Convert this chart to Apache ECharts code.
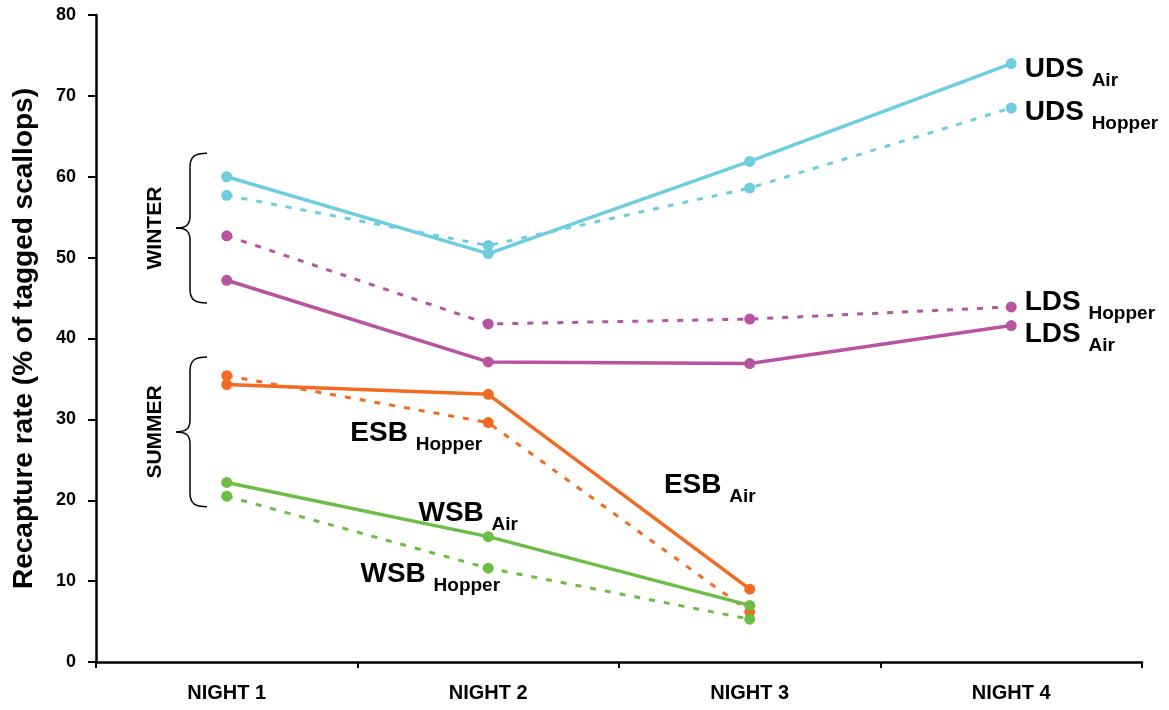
<!DOCTYPE html>
<html>
<head>
<meta charset="utf-8">
<script src="https://cdn.jsdelivr.net/npm/echarts@6/dist/echarts.min.js"></script>
<style>
html,body{margin:0;padding:0;background:#fff;}
#chart{width:1169px;height:710px;}
</style>
</head>
<body>
<div id="chart"></div>
<script>
// ---- data ----
var nights = ['NIGHT 1', 'NIGHT 2', 'NIGHT 3', 'NIGHT 4'];
var yTicks = [0, 10, 20, 30, 40, 50, 60, 70, 80];
var udsAir    = [60.0, 50.5, 61.9, 74.0];
var udsHopper = [57.7, 51.5, 58.6, 68.5];
var ldsHopper = [52.7, 41.8, 42.4, 43.9];
var ldsAir    = [47.2, 37.1, 36.9, 41.6];
var esbAir    = [34.3, 33.1, 9.0, null];
var esbHopper = [35.4, 29.6, 6.2, null];
var wsbAir    = [22.2, 15.5, 7.0, null];
var wsbHopper = [20.5, 11.6, 5.3, null];
var seasons = [
  {name: 'WINTER', from: 44.4, to: 62.9},
  {name: 'SUMMER', from: 19.2, to: 37.7}
];

var FONT = 'Arial, "Liberation Sans", Helvetica, sans-serif';
var C_CYAN = '#6fcddf', C_MAG = '#b8539f', C_OR = '#f36b22', C_GR = '#6cbd45';

var rich = {
  m: {fontFamily: FONT, fontWeight: 'bold', fontSize: 28, color: '#000', lineHeight: 35, verticalAlign: 'top'},
  s: {fontFamily: FONT, fontWeight: 'bold', fontSize: 19, color: '#000', lineHeight: 20, verticalAlign: 'bottom'}
};
var DY = 5.1; // shift so the main text sits where intended

function mkData(vals, labelIdx, labelCfg) {
  return vals.map(function (v, i) {
    if (v === null) return '-';
    if (i === labelIdx) {
      return {value: v, label: Object.assign({show: true, rich: rich}, labelCfg)};
    }
    return v;
  });
}

function mkSeries(name, vals, color, dashed, labelIdx, labelCfg) {
  return {
    name: name,
    type: 'line',
    data: mkData(vals, labelIdx, labelCfg),
    symbol: 'circle',
    symbolSize: 11,
    showSymbol: true,
    connectNulls: false,
    itemStyle: {color: color},
    lineStyle: {color: color, width: dashed ? 3 : 3.5, type: dashed ? [6, 9] : 'solid'},
    label: {show: false},
    z: dashed ? 2 : 3,
    animation: false
  };
}

var series = [
  mkSeries('UDS Hopper', udsHopper, C_CYAN, true, 3, {position: 'right', distance: 8, offset: [0, 3 + DY], formatter: '{m|UDS }{s|Hopper}'}),
  mkSeries('UDS Air', udsAir, C_CYAN, false, 3, {position: 'right', distance: 8, offset: [0, 4 + DY], formatter: '{m|UDS }{s|Air}'}),
  mkSeries('LDS Hopper', ldsHopper, C_MAG, true, 3, {position: 'right', distance: 8, offset: [0, -6 + DY], formatter: '{m|LDS }{s|Hopper}'}),
  mkSeries('LDS Air', ldsAir, C_MAG, false, 3, {position: 'right', distance: 8, offset: [0, 7 + DY], formatter: '{m|LDS }{s|Air}'}),
  mkSeries('ESB Hopper', esbHopper, C_OR, true, 1, {position: 'inside', offset: [-72, 9 + DY], formatter: '{m|ESB }{s|Hopper}'}),
  mkSeries('ESB Air', esbAir, C_OR, false, 2, {position: 'inside', offset: [-40, -106 + DY], formatter: '{m|ESB }{s|Air}'}),
  mkSeries('WSB Hopper', wsbHopper, C_GR, true, 1, {position: 'inside', offset: [-58, 4 + DY], formatter: '{m|WSB }{s|Hopper}'}),
  mkSeries('WSB Air', wsbAir, C_GR, false, 1, {position: 'inside', offset: [-20, -25 + DY], formatter: '{m|WSB }{s|Air}'})
];

var chart = echarts.init(document.getElementById('chart'), null, {renderer: 'canvas'});
var option = {
  backgroundColor: '#fff',
  animation: false,
  grid: {left: 96, right: 27, top: 15, bottom: 48, containLabel: false},
  xAxis: {
    type: 'category',
    data: nights,
    boundaryGap: true,
    axisLine: {show: true, onZero: false, lineStyle: {color: '#000', width: 2.5}},
    axisTick: {show: true, alignWithLabel: false, length: 6, lineStyle: {color: '#000', width: 2}},
    axisLabel: {color: '#000', fontFamily: FONT, fontWeight: 'bold', fontSize: 20, margin: 21},
    splitLine: {show: false}
  },
  yAxis: {
    type: 'value',
    min: yTicks[0],
    max: yTicks[yTicks.length - 1],
    interval: yTicks[1] - yTicks[0],
    name: 'Recapture rate (% of tagged scallops)',
    nameLocation: 'middle',
    nameGap: 58,
    nameTextStyle: {color: '#000', fontFamily: FONT, fontWeight: 'bold', fontSize: 28},
    axisLine: {show: true, lineStyle: {color: '#000', width: 2.5}},
    axisTick: {show: true, length: 8, lineStyle: {color: '#000', width: 2}},
    axisLabel: {color: '#000', fontFamily: FONT, fontWeight: 'bold', fontSize: 18, margin: 20},
    splitLine: {show: false}
  },
  series: series
};
chart.setOption(option);

// season braces (annotation), positioned through the y axis scale
function buildBraces() {
  var gridLeft = 96;
  var xEnd = gridLeft + 111, xStem = gridLeft + 94, xTip = gridLeft + 80, xText = gridLeft + 59;
  var st = {stroke: '#000', lineWidth: 1.5, fill: null};
  var els = [];
  function bz(x1, y1, c1x, c1y, c2x, c2y, x2, y2) {
    els.push({type: 'bezierCurve', silent: true, shape: {x1: x1, y1: y1, cpx1: c1x, cpy1: c1y, cpx2: c2x, cpy2: c2y, x2: x2, y2: y2}, style: st});
  }
  function ln(x1, y1, x2, y2) {
    els.push({type: 'line', silent: true, shape: {x1: x1, y1: y1, x2: x2, y2: y2}, style: st});
  }
  seasons.forEach(function (s) {
    var top = chart.convertToPixel({yAxisIndex: 0}, s.to);
    var bot = chart.convertToPixel({yAxisIndex: 0}, s.from);
    var mid = (top + bot) / 2;
    bz(xEnd, top, xEnd - 12, top, xStem, top + 3, xStem, top + 14);
    ln(xStem, top + 14, xStem, mid - 12);
    bz(xStem, mid - 12, xStem, mid - 3, xStem - 4, mid, xTip, mid);
    bz(xTip, mid, xStem - 4, mid, xStem, mid + 3, xStem, mid + 12);
    ln(xStem, mid + 12, xStem, bot - 14);
    bz(xStem, bot - 14, xStem, bot - 3, xEnd - 12, bot, xEnd, bot);
    els.push({
      type: 'text', x: xText, y: mid, rotation: Math.PI / 2, silent: true,
      style: {text: s.name, fill: '#000', font: 'bold 21px ' + FONT, textAlign: 'center', textVerticalAlign: 'middle'}
    });
  });
  chart.setOption({graphic: els});
}
buildBraces();
</script>
</body>
</html>
